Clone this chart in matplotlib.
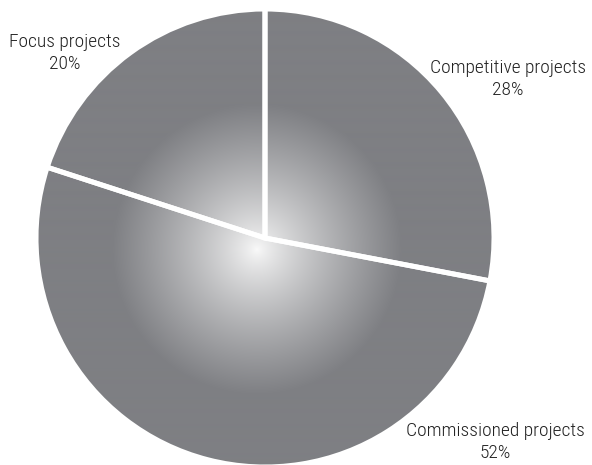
import numpy as np
import matplotlib.pyplot as plt
from matplotlib.patches import Circle
from matplotlib import font_manager

# project mix, clockwise from 12 o'clock
labels = ["Competitive projects", "Commissioned projects", "Focus projects"]
shares = [28, 52, 20]

W, H = 592, 465
fig = plt.figure(figsize=(W / 100, H / 100), dpi=100)
ax = fig.add_axes([0, 0, 1, 1])

cx, cy, r = 265, 227, 229
names = {f.name for f in font_manager.fontManager.ttflist}
family = ["DejaVu Sans"]
for cand in ["Roboto Condensed", "Liberation Sans Narrow", "Liberation Sans"]:
    if cand in names:
        family = [cand, "DejaVu Sans"]
        break

# radial shading: light centre fading out to a flat grey
edge = np.array([126, 127, 131]) / 255
light = np.array([250, 250, 250]) / 255
gx, gy, g_r = 257, 215, 145
xs = np.arange(W) + 0.5
ys = np.arange(H) + 0.5
X, Y = np.meshgrid(xs, ys)
t = np.clip(np.hypot(X - gx, Y - gy) / g_r, 0, 1) ** 0.8
img = light[None, None, :] * (1 - t[..., None]) + edge[None, None, :] * t[..., None]
im = ax.imshow(img, extent=(0, W, 0, H), origin="lower", zorder=1, interpolation="bilinear")
im.set_clip_path(Circle((cx, cy), r, transform=ax.transData))

wedges, _ = ax.pie(shares, startangle=90, counterclock=False, center=(cx, cy), radius=r,
                   wedgeprops=dict(facecolor="none", edgecolor="white", linewidth=3.6),
                   frame=True)
for w in wedges:
    w.set_zorder(3)
ax.set_xlim(0, W)
ax.set_ylim(0, H)
ax.set_aspect("equal")
ax.axis("off")

label_pos = [(508, 465 - 79), (495, 465 - 442), (65, 465 - 53)]
for name, pct, (lx, ly) in zip(labels, shares, label_pos):
    ax.text(lx, ly, f"{name}\n{pct}%", ha="center", va="center", fontsize=14,
            family=family, fontweight="light", color="#222222", linespacing=1.25, zorder=4)

fig.savefig("out.png", dpi=100)
